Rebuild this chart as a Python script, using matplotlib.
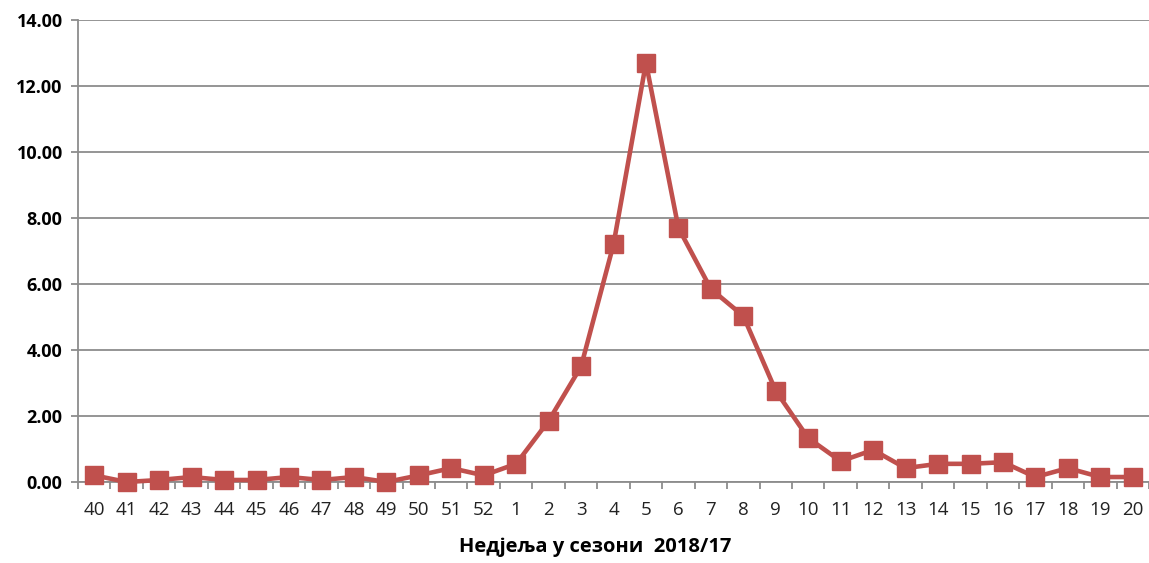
import matplotlib.pyplot as plt
import numpy as np

# weekly values for the season
weeks = ["40", "41", "42", "43", "44", "45", "46", "47", "48", "49", "50", "51", "52",
         "1", "2", "3", "4", "5", "6", "7", "8", "9", "10", "11", "12", "13", "14",
         "15", "16", "17", "18", "19", "20"]
values = [0.20, 0.00, 0.06, 0.15, 0.06, 0.06, 0.15, 0.06, 0.15, 0.00, 0.20, 0.42, 0.20,
          0.55, 1.85, 3.50, 7.20, 12.70, 7.70, 5.85, 5.03, 2.76, 1.33, 0.63, 0.97, 0.42,
          0.55, 0.55, 0.60, 0.15, 0.42, 0.15, 0.15]

y_ticks = np.arange(0, 15, 2)

plt.rcParams["font.family"] = ["Open Sans", "DejaVu Sans"]

fig = plt.figure(figsize=(11.49, 5.63), dpi=100)
ax = fig.add_axes([0.0679, 0.1439, 0.9321, 0.8206])

x = np.arange(len(weeks))
ax.plot(x, values, color="#C0504D", linewidth=3.3, marker="s",
        markersize=13.5, markerfacecolor="#C0504D", markeredgecolor="#C0504D",
        zorder=3, clip_on=False)

ax.set_xlim(-0.5, len(weeks) - 0.5)
ax.set_ylim(0, 14)

ax.set_yticks(y_ticks)
ax.set_yticklabels([f"{v:.2f}" for v in y_ticks], fontsize=13, fontweight="bold")
ax.yaxis.grid(True, color="#8C8C8C", linewidth=1.3)
ax.set_axisbelow(True)

# category labels centred, tick marks between categories
ax.set_xticks(x)
ax.set_xticklabels(weeks, fontsize=13.5, color="#222222")
ax.set_xticks(np.arange(-0.5, len(weeks), 1), minor=True)
ax.tick_params(axis="x", which="major", length=0, pad=14)
ax.tick_params(axis="x", which="minor", length=5, color="#8C8C8C", width=1.3)
ax.tick_params(axis="y", length=5, color="#8C8C8C", width=1.3, pad=6)

for side in ["top", "right"]:
    ax.spines[side].set_visible(False)
for side in ["left", "bottom"]:
    ax.spines[side].set_color("#8C8C8C")
    ax.spines[side].set_linewidth(1.3)

ax.set_xlabel("Недјеља у сезони  2018/17", fontsize=14.5, fontweight="bold")
ax.xaxis.set_label_coords(0.483, -0.118)

fig.savefig("out.png", dpi=100)
